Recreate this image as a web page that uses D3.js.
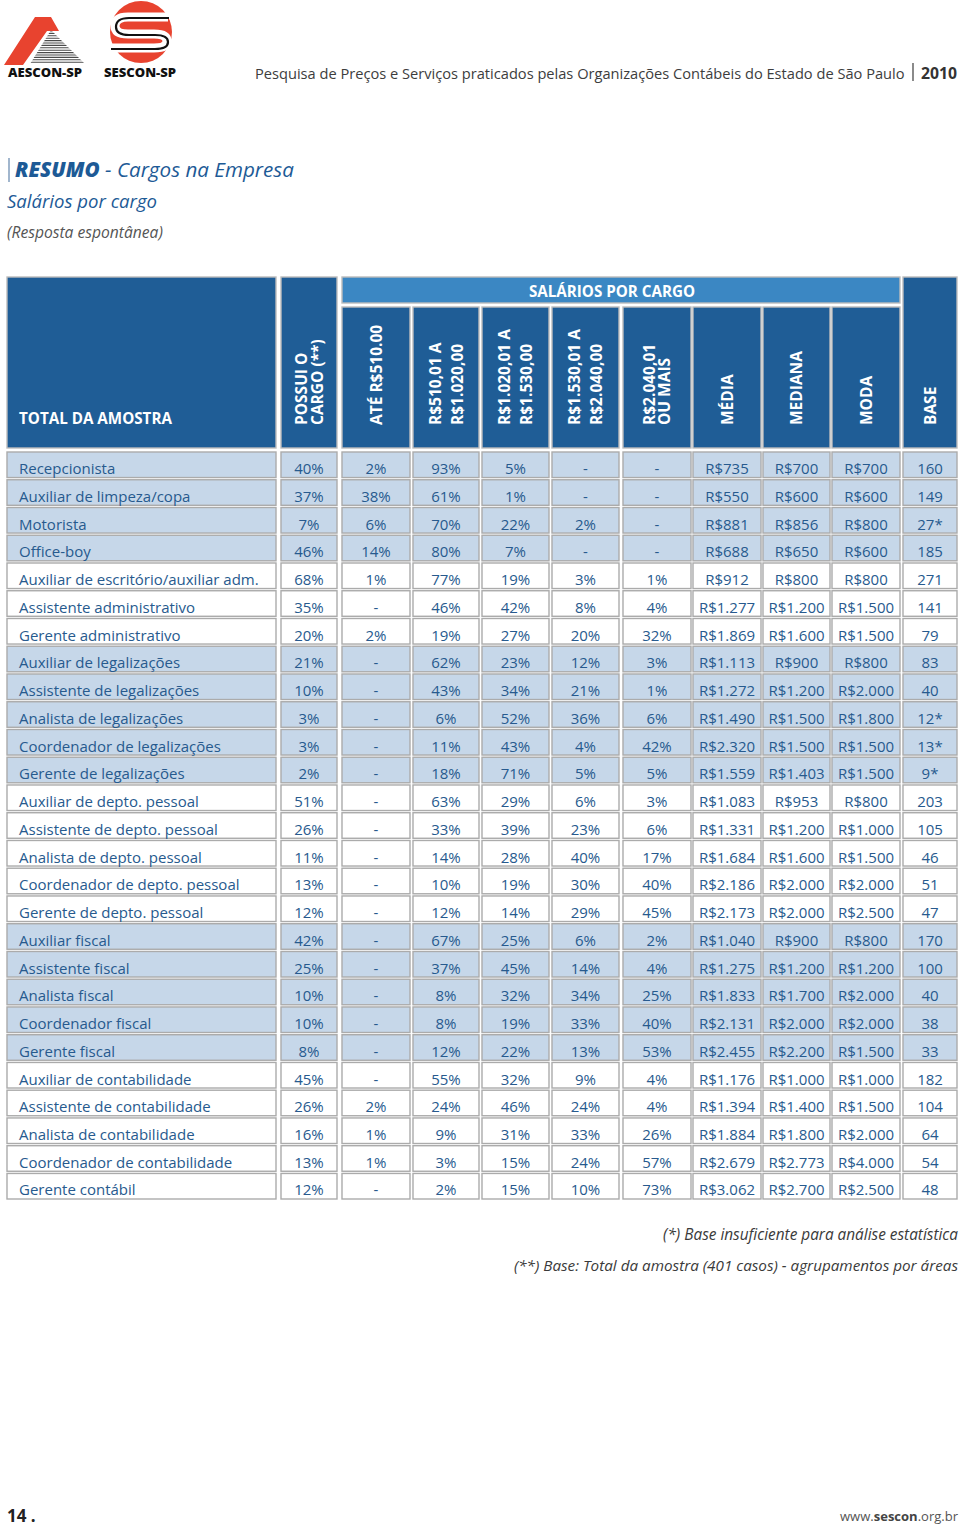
<!DOCTYPE html>
<html><head><meta charset="utf-8">
<script src="https://cdn.jsdelivr.net/npm/d3@7"></script>
<style>
html,body{margin:0;padding:0;background:#fff;}
svg{display:block;}
text{font-family:"Open Sans","Noto Sans",sans-serif;}
</style></head>
<body>
<svg id="chart" width="960" height="1528"></svg>
<script>
// ---------------- DATA ----------------
const cargos = ["Recepcionista","Auxiliar de limpeza/copa","Motorista","Office-boy",
 "Auxiliar de escritório/auxiliar adm.","Assistente administrativo","Gerente administrativo",
 "Auxiliar de legalizações","Assistente de legalizações","Analista de legalizações","Coordenador de legalizações","Gerente de legalizações",
 "Auxiliar de depto. pessoal","Assistente de depto. pessoal","Analista de depto. pessoal","Coordenador de depto. pessoal","Gerente de depto. pessoal",
 "Auxiliar fiscal","Assistente fiscal","Analista fiscal","Coordenador fiscal","Gerente fiscal",
 "Auxiliar de contabilidade","Assistente de contabilidade","Analista de contabilidade","Coordenador de contabilidade","Gerente contábil"];
const areas = ["apoio","apoio","apoio","apoio",
 "administrativo","administrativo","administrativo",
 "legalizações","legalizações","legalizações","legalizações","legalizações",
 "pessoal","pessoal","pessoal","pessoal","pessoal",
 "fiscal","fiscal","fiscal","fiscal","fiscal",
 "contabilidade","contabilidade","contabilidade","contabilidade","contabilidade"];
const possuiCargo = [40,37,7,46,68,35,20,21,10,3,3,2,51,26,11,13,12,42,25,10,10,8,45,26,16,13,12];
const ate510      = [2,38,6,14,1,null,2,null,null,null,null,null,null,null,null,null,null,null,null,null,null,null,null,2,1,1,null];
const de510a1020  = [93,61,70,80,77,46,19,62,43,6,11,18,63,33,14,10,12,67,37,8,8,12,55,24,9,3,2];
const de1020a1530 = [5,1,22,7,19,42,27,23,34,52,43,71,29,39,28,19,14,25,45,32,19,22,32,46,31,15,15];
const de1530a2040 = [null,null,2,null,3,8,20,12,21,36,4,5,6,23,40,30,29,6,14,34,33,13,9,24,33,24,10];
const acima2040   = [null,null,null,null,1,4,32,3,1,6,42,5,3,6,17,40,45,2,4,25,40,53,4,4,26,57,73];
const media   = [735,550,881,688,912,1277,1869,1113,1272,1490,2320,1559,1083,1331,1684,2186,2173,1040,1275,1833,2131,2455,1176,1394,1884,2679,3062];
const mediana = [700,600,856,650,800,1200,1600,900,1200,1500,1500,1403,953,1200,1600,2000,2000,900,1200,1700,2000,2200,1000,1400,1800,2773,2700];
const moda    = [700,600,800,600,800,1500,1500,800,2000,1800,1500,1500,800,1000,1500,2000,2500,800,1200,2000,2000,1500,1000,1500,2000,4000,2500];
const base    = [160,149,27,185,271,141,79,83,40,12,13,9,203,105,46,51,47,170,100,40,38,33,182,104,64,54,48];
const baseMinima = 30; // abaixo disso: (*) base insuficiente

const headerTotal = "TOTAL DA AMOSTRA";
const headerGrupo = "SALÁRIOS POR CARGO";
const headerColunas = [["POSSUI O","CARGO (**)"],["ATÉ R$510.00"],["R$510,01 A","R$1.020,00"],
 ["R$1.020,01 A","R$1.530,00"],["R$1.530,01 A","R$2.040,00"],["R$2.040,01","OU MAIS"],
 ["MÉDIA"],["MEDIANA"],["MODA"],["BASE"]];
const notas = ["(*) Base insuficiente para análise estatística",
 "(**) Base: Total da amostra (401 casos) - agrupamentos por áreas"];

// ---------------- STYLE / LAYOUT ----------------
const C = {dark:"#1f5d96", band:"#3b87c3", shade:"#c6d7e9", border:"#ababab", hborder:"#bcbcbc",
           txt:"#275a8e", title:"#1d5a96"};
const svg = d3.select("#chart");

// scale a text's font size so that its natural width equals the target width
function fit(sel, target){
  sel.each(function(){
    const fs = parseFloat(this.getAttribute("font-size"));
    const w = this.getComputedTextLength();
    if (w > 0) this.setAttribute("font-size", (fs*target/w).toFixed(2));
  });
  return sel;
}

const loc = d3.formatLocale({decimal:",", thousands:".", grouping:[3], currency:["R$",""]});
const fmtMoney = v => "R$" + loc.format(",d")(v);
const fmtPct = v => v == null ? "-" : v + "%";
const fmtBase = v => v < baseMinima ? v + "*" : String(v);

const cols = [
 {x0:7,   x1:276, vals:cargos, f:d=>d, label:true},
 {x0:281, x1:337, vals:possuiCargo, f:fmtPct, sp:16},
 {x0:342, x1:410, vals:ate510, f:fmtPct},
 {x0:413, x1:479, vals:de510a1020, f:fmtPct, sp:22},
 {x0:482, x1:549, vals:de1020a1530, f:fmtPct, sp:22},
 {x0:552, x1:619, vals:de1530a2040, f:fmtPct, sp:22},
 {x0:623, x1:691, vals:acima2040, f:fmtPct, sp:15},
 {x0:693, x1:761, vals:media, f:fmtMoney},
 {x0:763, x1:830, vals:mediana, f:fmtMoney},
 {x0:832, x1:900, vals:moda, f:fmtMoney},
 {x0:903, x1:957, vals:base, f:fmtBase}
];

// ---------------- LOGOS ----------------
const logo = svg.append("g");
const defs = svg.append("defs");
defs.append("clipPath").attr("id","tri").append("path").attr("d","M51,30 L85,64 L30,64 Z");
const stripes = logo.append("g").attr("clip-path","url(#tri)");
stripes.selectAll("line").data(d3.range(31,65,2.4)).join("line")
  .attr("x1",20).attr("x2",90).attr("y1",d=>d).attr("y2",d=>d)
  .attr("stroke","#4a4a4a").attr("stroke-width",1.1);
logo.append("path").attr("d","M4,65 L35,17 L51,17 L59,31 L47,31 L23,65 Z").attr("fill","#e8432f");
fit(logo.append("text").attr("x",8).attr("y",77).attr("font-size",11.5).attr("font-weight",800)
  .attr("fill","#111").text("AESCON-SP"), 74);
logo.append("circle").attr("cx",141).attr("cy",32).attr("r",31).attr("fill","#e8432f");
const sPath = "M168,17 L128,17 Q115,17 115,26 Q115,34 128,34 L154,34 Q167,34 167,41 Q167,48 154,48 L110,48";
logo.append("path").attr("d",sPath).attr("fill","none").attr("stroke","#fff").attr("stroke-width",9);
logo.append("path").attr("d",sPath).attr("fill","none").attr("stroke","#111").attr("stroke-width",2.2)
  .attr("transform","translate(1,1)");
fit(logo.append("text").attr("x",104).attr("y",77).attr("font-size",11.5).attr("font-weight",800)
  .attr("fill","#111").text("SESCON-SP"), 72);

// ---------------- PAGE HEADER ----------------
fit(svg.append("text").attr("x",255).attr("y",79).attr("font-size",17).attr("fill","#3d3d3d")
  .text("Pesquisa de Preços e Serviços praticados pelas Organizações Contábeis do Estado de São Paulo"), 650);
svg.append("line").attr("x1",913).attr("x2",913).attr("y1",63).attr("y2",81).attr("stroke","#3d3d3d").attr("stroke-width",1.2);
fit(svg.append("text").attr("x",921).attr("y",79).attr("font-size",16).attr("font-weight",700).attr("fill","#333")
  .text("2010"), 36);

// ---------------- TITLE ----------------
svg.append("line").attr("x1",9).attr("x2",9).attr("y1",158).attr("y2",182).attr("stroke","#6f8fb3").attr("stroke-width",1.3);
const t1 = svg.append("text").attr("x",15).attr("y",177).attr("font-size",21).attr("font-style","italic")
  .attr("fill",C.title);
t1.append("tspan").attr("font-weight",800).text("RESUMO");
t1.append("tspan").text(" - Cargos na Empresa");
fit(t1, 279);
fit(svg.append("text").attr("x",7).attr("y",208).attr("font-size",20).attr("font-style","italic")
  .attr("fill",C.title).text("Salários por cargo"), 150);
fit(svg.append("text").attr("x",7).attr("y",238).attr("font-size",16).attr("font-style","italic")
  .attr("fill","#555").text("(Resposta espontânea)"), 156);

// ---------------- TABLE HEADER ----------------
const hTop = 277, hBot = 448, bandBot = 303, subTop = 307;
const hdr = svg.append("g");
function hcell(x0,y0,x1,y1,fill){
  hdr.append("rect").attr("x",x0).attr("y",y0).attr("width",x1-x0).attr("height",y1-y0)
    .attr("fill",fill).attr("stroke",C.hborder).attr("stroke-width",1.4);
}
hcell(cols[0].x0,hTop,cols[0].x1,hBot,C.dark);
hcell(cols[1].x0,hTop,cols[1].x1,hBot,C.dark);
hcell(cols[10].x0,hTop,cols[10].x1,hBot,C.dark);
hcell(cols[2].x0,hTop,cols[9].x1,bandBot,C.band);
for(let i=2;i<=9;i++) hcell(cols[i].x0,subTop,cols[i].x1,hBot,C.dark);

hdr.append("text").attr("x",19).attr("y",424).attr("font-size",15.2).attr("font-weight",700)
  .attr("fill","#fff").text(headerTotal);
hdr.append("text").attr("x",612).attr("y",297).attr("text-anchor","middle").attr("font-size",15.2)
  .attr("font-weight",700).attr("fill","#fff").text(headerGrupo);

headerColunas.forEach((lines,k)=>{
  const c = cols[k+1];
  const cx = (c.x0+c.x1)/2;
  const sp = c.sp || 0;
  const g = hdr.append("g").attr("transform",`translate(${cx},425) rotate(-90)`);
  lines.forEach((ln,j)=>{
    const off = lines.length===1 ? 5.5 : 5.5 - sp/2 + j*sp;
    g.append("text").attr("x",0).attr("y",off).attr("font-size",15.5).attr("font-weight",700)
      .attr("fill","#fff").text(ln);
  });
});

// ---------------- TABLE BODY ----------------
const y = d3.scaleBand().domain(d3.range(cargos.length)).range([452,1199]).paddingInner(0.0793).paddingOuter(0);
const areaList = Array.from(new Set(areas));
const shadeOf = i => areaList.indexOf(areas[i]) % 2 === 0 ? C.shade : "#fff";

const body = svg.append("g");
const rows = body.selectAll("g.row").data(d3.range(cargos.length)).join("g").attr("class","row")
  .attr("transform",i=>`translate(0,${y(i)})`);
cols.forEach(c=>{
  rows.append("rect").attr("x",c.x0).attr("y",0).attr("width",c.x1-c.x0).attr("height",y.bandwidth())
    .attr("fill",i=>shadeOf(i)).attr("stroke",C.border).attr("stroke-width",1.4);
  rows.append("text")
    .attr("x", c.label ? 19 : (c.x0+c.x1)/2)
    .attr("y", y.bandwidth()-3.5)
    .attr("text-anchor", c.label ? "start" : "middle")
    .attr("font-size",15).attr("fill",C.txt)
    .text(i=>c.f(c.vals[i]));
});

// ---------------- NOTES ----------------
svg.selectAll("text.nota").data(notas).join("text").attr("class","nota")
  .attr("x",958).attr("y",(d,i)=>1240+i*31).attr("text-anchor","end")
  .attr("font-size",16).attr("font-style","italic").attr("fill","#3a3a3a")
  .text(d=>d)
  .each(function(d,i){ fit(d3.select(this), [295,444][i]); });

// ---------------- FOOTER ----------------
svg.append("text").attr("x",7).attr("y",1522).attr("font-size",17).attr("font-weight",700).attr("fill","#222").text("14 .");
const site = svg.append("text").attr("x",958).attr("y",1521).attr("text-anchor","end").attr("font-size",13)
  .attr("fill","#555");
site.append("tspan").text("www.");
site.append("tspan").attr("font-weight",700).attr("fill","#444").text("sescon");
site.append("tspan").text(".org.br");
fit(site, 118);
</script>
</body></html>
